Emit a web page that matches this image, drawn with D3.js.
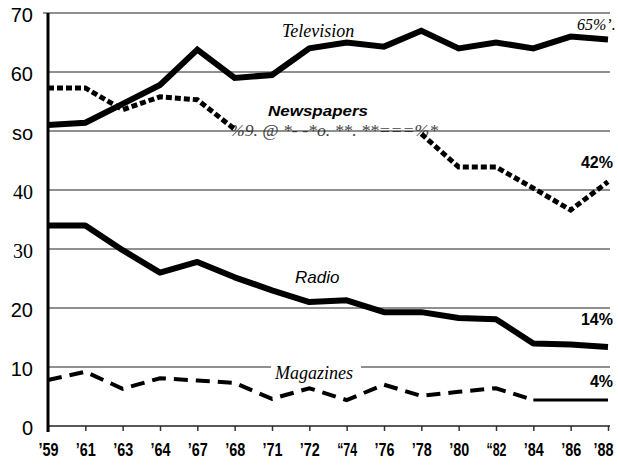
<!DOCTYPE html>
<html>
<head>
<meta charset="utf-8">
<script src="https://cdn.jsdelivr.net/npm/d3@7"></script>
<style>
  body { margin: 0; background: #fff; }
  svg { display: block; }
</style>
</head>
<body>
<div id="chart"></div>
<script>
"use strict";
//years along the bottom, as printed on the original
var years = ["’59", "’61", "’63", "’64", "’67", "’68", "’71", "’72", "“74", "’76", "’78", "’80", "“82", "’84", "’86", "’88"];

var television = [51, 51.4, 54.6, 57.8, 63.8, 59, 59.5, 64, 65, 64.3, 67, 64, 65, 64, 66, 65.5];
//the middle of this line is lost under the scanned text, so it stays empty
var newspapers = [57.3, 57.3, 53.6, 55.8, 55.3, 50.3, null, null, null, null, 49.5, 43.9, 43.9, 40.3, 36.6, 41.4];
var radio = [34, 34, 29.8, 26, 27.8, 25.2, 23, 21, 21.3, 19.3, 19.3, 18.3, 18.1, 14, 13.8, 13.4];
var magazines = [7.8, 9.2, 6.3, 8.1, 7.7, 7.3, 4.6, 6.4, 4.4, 7, 5.1, 5.8, 6.4, 4.4, 4.4, 4.4];

var yTicks = [0, 10, 20, 30, 40, 50, 60, 70];
var yTickLabels = ["0", "10", "20", "30", "40", "so", "60", "70"];

var seriesNames = ["Television", "Newspapers", "Radio", "Magazines"];
var endLabels = ["65%’.", "42%", "14%", "4%"];
var scanText = "%9. @ *-  -*o. **. **===%*";

var w = 618,
  h = 465;

var svg = d3
  .select("#chart")
  .append("svg")
  .attr("width", w)
  .attr("height", h);

var x = d3
  .scalePoint()
  .domain(years)
  .range([48, 608]);

var y = d3
  .scaleLinear()
  .domain([0, 70])
  .range([426, 13]);

var sans = "Liberation Sans, Arial, sans-serif";
var serif = "Liberation Serif, Times New Roman, serif";

function pts(values) {
  return values.map(function(v, i) {
    return { year: years[i], value: v, i: i };
  });
}

var line = d3
  .line()
  .defined(function(d) {
    return d.value != null;
  })
  .x(function(d) {
    return x(d.year);
  })
  .y(function(d) {
    return y(d.value);
  });

//labels first, the 10 line needs the Magazines box
var labels = svg.append("g");

labels
  .append("text")
  .attr("x", 282)
  .attr("y", 37)
  .style("font", "italic 18px " + serif)
  .text(seriesNames[0]);

labels
  .append("text")
  .attr("x", 268)
  .attr("y", 116)
  .attr("textLength", 100)
  .attr("lengthAdjust", "spacingAndGlyphs")
  .style("font", "italic bold 15px " + sans)
  .text(seriesNames[1]);

labels
  .append("text")
  .attr("x", 295)
  .attr("y", 283)
  .style("font", "italic 17px " + sans)
  .text(seriesNames[2]);

var magLabel = labels
  .append("text")
  .attr("x", 275)
  .attr("y", 379)
  .style("font", "italic 18px " + serif)
  .text(seriesNames[3]);

labels
  .append("text")
  .attr("x", 577)
  .attr("y", 30)
  .style("font", "italic 16px " + serif)
  .text(endLabels[0]);

[[1, 168], [2, 325], [3, 387]].forEach(function(p) {
  labels
    .append("text")
    .attr("x", 613)
    .attr("y", p[1])
    .attr("text-anchor", "end")
    .style("font", "bold 16px " + sans)
    .text(endLabels[p[0]]);
});

labels
  .append("text")
  .attr("x", 230)
  .attr("y", 136)
  .attr("textLength", 208)
  .attr("lengthAdjust", "spacingAndGlyphs")
  .style("font", "italic 17px " + serif)
  .style("fill", "#444")
  .text(scanText);

//gridlines
var grid = svg.append("g").attr("stroke", "#222").attr("stroke-width", 1.2);
var mb = magLabel.node().getBBox();

yTicks.slice(1).forEach(function(t) {
  var x0 = t == 70 ? 43 : 48;
  if (t == 10) {
    grid.append("line")
      .attr("x1", x0).attr("x2", mb.x - 3)
      .attr("y1", y(t)).attr("y2", y(t));
    grid.append("line")
      .attr("x1", mb.x + mb.width + 8).attr("x2", 610)
      .attr("y1", y(t)).attr("y2", y(t));
  } else {
    grid.append("line")
      .attr("x1", x0).attr("x2", 610)
      .attr("y1", y(t)).attr("y2", y(t));
  }
});

//baseline and ticks
var xAxis = svg
  .append("g")
  .attr("transform", "translate(0," + y(0) + ")")
  .call(d3.axisBottom(x).tickSize(5).tickPadding(12));

xAxis.select(".domain").remove();
xAxis.selectAll(".tick line").attr("stroke", "#333").attr("stroke-width", 1.5);
//the print uses a condensed face, squeeze to match
xAxis
  .selectAll(".tick text")
  .attr("fill", "#000")
  .attr("textLength", 20)
  .attr("lengthAdjust", "spacingAndGlyphs")
  .style("font", "bold 18px " + sans);

//last label is anchored at its right end so it stays on the page
xAxis
  .selectAll(".tick text")
  .filter(function(d, i) {
    return i == years.length - 1;
  })
  .attr("text-anchor", "end")
  .attr("x", 5);

svg
  .append("line")
  .attr("x1", 48)
  .attr("x2", 610)
  .attr("y1", y(0))
  .attr("y2", y(0))
  .attr("stroke", "#222")
  .attr("stroke-width", 1.6);

var yAxis = svg
  .append("g")
  .attr("transform", "translate(48,0)")
  .call(
    d3
      .axisLeft(y)
      .tickValues(yTicks)
      .tickSize(0)
      .tickPadding(15)
      .tickFormat(function(d, i) {
        return yTickLabels[i];
      })
  );

yAxis.select(".domain").remove();
yAxis
  .selectAll(".tick text")
  .attr("dy", "0.42em")
  .attr("fill", "#000")
  .style("font", function(d) {
    //the scan mixes two faces on this axis
    return (d == 30 || d == 40 ? "20px " + serif : "20px " + sans);
  });

svg
  .append("line")
  .attr("x1", 48)
  .attr("x2", 48)
  .attr("y1", 13)
  .attr("y2", 432)
  .attr("stroke", "#000")
  .attr("stroke-width", 3);

//series
var lines = svg.append("g").attr("fill", "none").attr("stroke", "#000");

lines
  .append("path")
  .attr("d", line(pts(television)))
  .attr("stroke-width", 6)
  .attr("stroke-linejoin", "miter");

lines
  .append("path")
  .attr("d", line(pts(radio)))
  .attr("stroke-width", 6)
  .attr("stroke-linejoin", "round");

lines
  .append("path")
  .attr("d", line(pts(newspapers)))
  .attr("stroke-width", 5)
  .attr("stroke-dasharray", "6,3");

//magazines turn solid from '84 on
var mag = pts(magazines);
lines
  .append("path")
  .attr("d", line(mag.slice(0, 14)))
  .attr("stroke-width", 4)
  .attr("stroke-dasharray", "14,8");

lines
  .append("path")
  .attr("d", line(mag.slice(13)))
  .attr("stroke-width", 3);
</script>
</body>
</html>
